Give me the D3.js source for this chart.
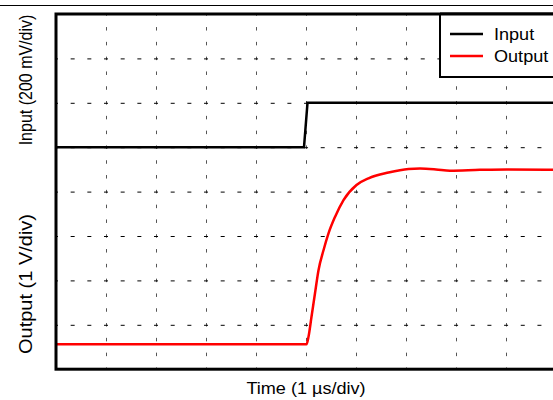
<!DOCTYPE html>
<html><head><meta charset="utf-8">
<script src="https://cdn.jsdelivr.net/npm/d3@7"></script>
<style>
body{margin:0;background:#fff;}
svg{display:block;font-family:"Liberation Sans",Arial,sans-serif;}
</style></head>
<body><svg id="c" width="553" height="400"></svg>
<script>
// time in divisions (1 µs/div), amplitude in divisions
const inputT = [0, 4.96, 5.03, 10];
const inputV = [5, 5, 6, 6];
const outputT = [0, 5.01, 5.05, 5.11, 5.18, 5.25, 5.35, 5.45, 5.58, 5.75, 6.01, 6.25, 6.65, 7.05, 7.28, 7.6, 7.88, 8.48, 9.02, 10];
const outputV = [0.56, 0.56, 0.73, 1.18, 1.71, 2.23, 2.68, 3.06, 3.43, 3.81, 4.15, 4.30, 4.43, 4.51, 4.52, 4.50, 4.47, 4.49, 4.50, 4.49];
const xTicks = [1,2,3,4,5,6,7,8,9];
const yTicks = [1,2,3,4,5,6,7];
const seriesNames = ["Input", "Output"];
const seriesColors = ["#000000", "#ff0000"];
const xLabel = "Time (1 \u00b5s/div)";
const yLabelTop = "Input (200 mV/div)";
const yLabelBottom = "Output (1 V/div)";

const svg = d3.select("#c");
const L = 56, R = 556, T = 14, B = 369.2;
const x = d3.scaleLinear().domain([0, 10]).range([L, R]);
const y = d3.scaleLinear().domain([0, 8]).range([B, T]);

// top rule
svg.append("line").attr("x1", 0).attr("x2", 553).attr("y1", 5.5).attr("y2", 5.5)
  .attr("stroke", "#000").attr("stroke-width", 1);

// grid via axes
const gx = svg.append("g").attr("transform", `translate(0,${T})`)
  .call(d3.axisBottom(x).tickValues(xTicks).tickSize(B - T).tickFormat(""));
gx.select(".domain").remove();
gx.selectAll(".tick line").attr("stroke", "#555").attr("stroke-width", 1)
  .attr("stroke-dasharray", "3.5 11.3").attr("stroke-dashoffset", 1.75);

const gy = svg.append("g").attr("transform", `translate(${L},0)`)
  .call(d3.axisRight(y).tickValues(yTicks).tickSize(R - L).tickFormat(""));
gy.select(".domain").remove();
gy.selectAll(".tick line").attr("stroke", "#000").attr("stroke-width", 1)
  .attr("stroke-dasharray", "4 12.67").attr("stroke-dashoffset", 2);

// clip
svg.append("clipPath").attr("id", "clip").append("rect")
  .attr("x", L).attr("y", T).attr("width", R - L).attr("height", B - T);

const line = d3.line().x(d => x(d[0])).y(d => y(d[1]));
const inData = inputT.map((t, i) => [t, inputV[i]]);
const outData = outputT.map((t, i) => [t, outputV[i]]);
const lineC = d3.line().x(d => x(d[0])).y(d => y(d[1])).curve(d3.curveMonotoneX);

svg.append("path").datum(inData).attr("clip-path", "url(#clip)")
  .attr("d", line).attr("fill", "none").attr("stroke", seriesColors[0]).attr("stroke-width", 2.5);
svg.append("path").datum(outData).attr("clip-path", "url(#clip)")
  .attr("d", lineC).attr("fill", "none").attr("stroke", seriesColors[1]).attr("stroke-width", 2.5);

// frame
svg.append("rect").attr("x", L).attr("y", T).attr("width", R - L).attr("height", B - T)
  .attr("fill", "none").attr("stroke", "#000").attr("stroke-width", 3);

// legend
const lg = svg.append("g");
lg.append("rect").attr("x", 440).attr("y", T).attr("width", R - 440).attr("height", 77 - T)
  .attr("fill", "#fff").attr("stroke", "#000").attr("stroke-width", 2);
seriesNames.forEach((n, i) => {
  const yy = 34 + i * 22;
  lg.append("line").attr("x1", 450).attr("x2", 483).attr("y1", yy).attr("y2", yy)
    .attr("stroke", seriesColors[i]).attr("stroke-width", 2.5);
  lg.append("text").attr("transform", `translate(494,${yy + 6}) scale(1.13,1)`)
    .attr("font-size", 16).text(n);
});
svg.append("line").attr("x1", 440).attr("x2", R).attr("y1", T).attr("y2", T)
  .attr("stroke", "#000").attr("stroke-width", 3);

// axis labels
svg.append("text").attr("transform", `translate(${(L + R) / 2},394) scale(1.13,1)`)
  .attr("text-anchor", "middle").attr("font-size", 16).text(xLabel);
svg.append("text").attr("transform", "translate(32,80) rotate(-90) scale(1,1.13)").attr("text-anchor", "middle")
  .attr("font-size", 16).text(yLabelTop);
svg.append("text").attr("transform", "translate(32,284) rotate(-90) scale(1.25,1.13)").attr("text-anchor", "middle")
  .attr("font-size", 16).text(yLabelBottom);
</script></body></html>
